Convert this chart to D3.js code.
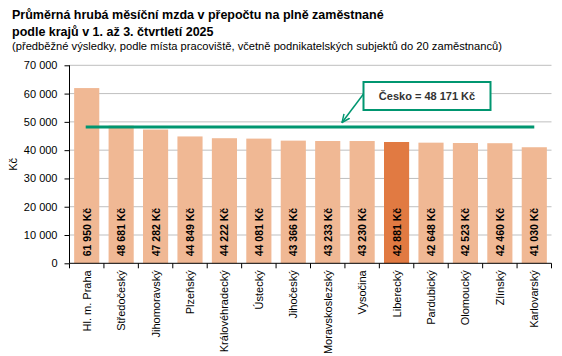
<!DOCTYPE html>
<html><head><meta charset="utf-8">
<script src="https://cdn.jsdelivr.net/npm/d3@7"></script>
<style>
body{margin:0;background:#fff;}
svg{display:block;font-family:Arial,"Liberation Sans",sans-serif;}
</style></head><body>
<svg id="c" width="562" height="356"></svg>
<script>
const categories = ["Hl. m. Praha","Středočeský","Jihomoravský","Plzeňský","Královéhradecký","Ústecký","Jihočeský","Moravskoslezský","Vysočina","Liberecký","Pardubický","Olomoucký","Zlínský","Karlovarský"];
const values = [61950,48681,47282,44849,44222,44081,43366,43233,43230,42881,42648,42523,42460,41030];
const highlighted = ["Liberecký"];
const czAverage = 48171;
const yTicks = [0,10000,20000,30000,40000,50000,60000,70000];
const titleLines = ["Průměrná hrubá měsíční mzda v přepočtu na plně zaměstnané","podle krajů v 1. až 3. čtvrtletí 2025"];
const subtitle = "(předběžné výsledky, podle místa pracoviště, včetně podnikatelských subjektů do 20 zaměstnanců)";
const yLabel = "Kč";
const annotationText = "Česko = 48 171 Kč";

const fmt = v => d3.format(",")(v).replace(/,/g, " ");
const svg = d3.select("#c");
const L = 69.5, R = 551.5, T = 65.3, B = 263.3;
const x = d3.scaleBand().domain(categories).range([L, R]).paddingInner(0.27).paddingOuter(0.135);
const y = d3.scaleLinear().domain([0, 70000]).range([B, T]);

// title
svg.append("text").attr("x", 12).attr("y", 19).attr("font-size", 12.5).attr("font-weight", "bold").attr("fill", "#000").text(titleLines[0]);
svg.append("text").attr("x", 12).attr("y", 36).attr("font-size", 12.5).attr("font-weight", "bold").attr("fill", "#000").text(titleLines[1]);
svg.append("text").attr("x", 12).attr("y", 50).attr("font-size", 10).attr("fill", "#000").attr("textLength", 490).attr("lengthAdjust", "spacingAndGlyphs").text(subtitle);

// gridlines
svg.append("g").selectAll("line").data(yTicks.filter(d => d > 0)).join("line")
  .attr("x1", L).attr("x2", R).attr("y1", d => y(d)).attr("y2", d => y(d))
  .attr("stroke", "#BFBFBF").attr("stroke-width", 1);

// bars
svg.append("g").selectAll("rect").data(categories).join("rect")
  .attr("x", d => x(d)).attr("width", x.bandwidth())
  .attr("y", (d, i) => y(values[i])).attr("height", (d, i) => B - y(values[i]))
  .attr("fill", d => highlighted.includes(d) ? "#E17A42" : "#F0B894");

// value labels
svg.append("g").selectAll("text").data(categories).join("text")
  .attr("transform", d => `translate(${x(d) + x.bandwidth() / 2 + 4},${B - 7}) rotate(-90)`)
  .attr("font-size", 10.5).attr("font-weight", "bold").attr("fill", "#000")
  .text((d, i) => fmt(values[i]) + " Kč");

// y axis
const yAxis = svg.append("g").attr("transform", `translate(${L},0)`)
  .call(d3.axisLeft(y).tickValues(yTicks).tickFormat(fmt).tickSize(5).tickPadding(7));
yAxis.select(".domain").attr("stroke", "#000").attr("d", `M0,${T}V${B}`);
yAxis.selectAll(".tick line").attr("stroke", "#000");
yAxis.selectAll(".tick text").attr("font-size", 11).attr("fill", "#000").attr("font-family", "Arial,'Liberation Sans',sans-serif");

// x axis
const xAxis = svg.append("g").attr("transform", `translate(0,${B})`)
  .call(d3.axisBottom(x).tickSize(0).tickFormat(""));
xAxis.select(".domain").attr("stroke", "#000").attr("d", `M${L},0H${R}`);
const bounds = categories.map((d, i) => L + i * x.step() * 1).concat([R]);
const step = (R - L) / categories.length;
xAxis.selectAll(".bt").data(d3.range(categories.length + 1)).join("line")
  .attr("x1", i => L + i * step).attr("x2", i => L + i * step).attr("y1", 0).attr("y2", 5).attr("stroke", "#000");

// category labels
svg.append("g").selectAll("text").data(categories).join("text")
  .attr("transform", d => `translate(${x(d) + x.bandwidth() / 2 + 4},${B + 7}) rotate(-90)`)
  .attr("text-anchor", "end").attr("font-size", 11).attr("fill", "#000")
  .text(d => d);

// y label
svg.append("text").attr("transform", `translate(17,${(T + B) / 2}) rotate(-90)`)
  .attr("text-anchor", "middle").attr("font-size", 11).attr("fill", "#000").text(yLabel);

// average line
const green = "#009670";
svg.append("line")
  .attr("x1", x(categories[0]) + x.bandwidth() / 2 - 1).attr("x2", x(categories[categories.length - 1]) + x.bandwidth() / 2)
  .attr("y1", y(czAverage)).attr("y2", y(czAverage))
  .attr("stroke", green).attr("stroke-width", 3);

// annotation
const bx = 363.5, by = 82, bw = 127, bh = 28;
svg.append("rect").attr("x", bx).attr("y", by).attr("width", bw).attr("height", bh)
  .attr("fill", "#fff").attr("stroke", green).attr("stroke-width", 2);
svg.append("text").attr("x", bx + bw / 2).attr("y", by + bh / 2 + 4).attr("text-anchor", "middle")
  .attr("font-size", 11).attr("font-weight", "bold").attr("fill", "#333").text(annotationText);
const defs = svg.append("defs");
defs.append("marker").attr("id", "ah").attr("viewBox", "0 0 10 10").attr("refX", 9).attr("refY", 5)
  .attr("markerWidth", 6).attr("markerHeight", 6).attr("orient", "auto")
  .append("path").attr("d", "M0,1 L9,5 L0,9").attr("fill", "none").attr("stroke", green).attr("stroke-width", 1.6);
svg.append("line").attr("x1", bx).attr("y1", by + 12).attr("x2", 342).attr("y2", 122.5)
  .attr("stroke", green).attr("stroke-width", 1.5).attr("marker-end", "url(#ah)");
</script>
</body></html>
